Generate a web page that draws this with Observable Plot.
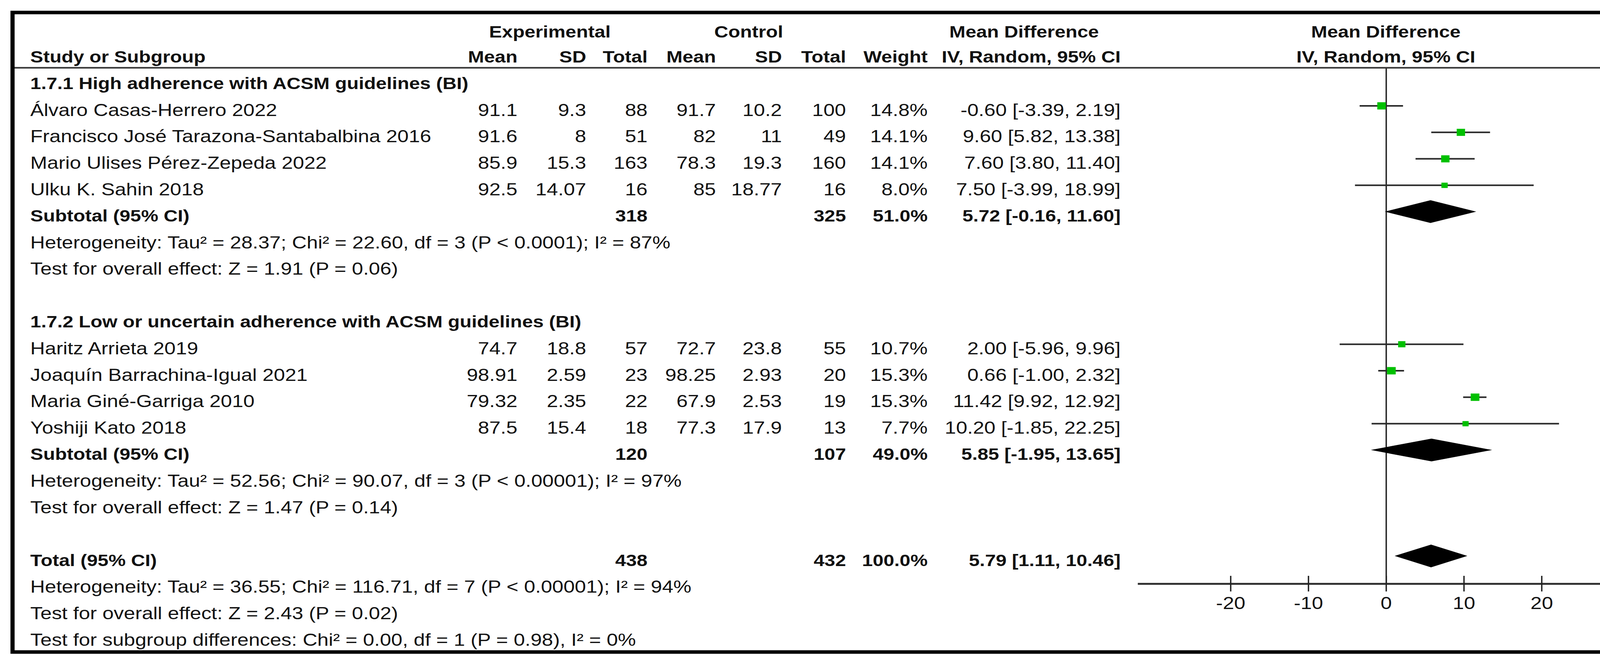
<!DOCTYPE html>
<html><head><meta charset="utf-8">
<script src="https://cdn.jsdelivr.net/npm/d3@7"></script>
<script src="https://cdn.jsdelivr.net/npm/@observablehq/plot@0.6"></script>
<style>html,body{margin:0;padding:0;background:#fff;} #chart{width:4260px;height:1692px;overflow:hidden;}</style>
</head><body><div id="chart"></div><script>
// ---------------- DATA ----------------
const studies = ["Álvaro Casas-Herrero 2022", "Francisco José Tarazona-Santabalbina 2016", "Mario Ulises Pérez-Zepeda 2022", "Ulku K. Sahin 2018",
  "Haritz Arrieta 2019", "Joaquín Barrachina-Igual 2021", "Maria Giné-Garriga 2010", "Yoshiji Kato 2018"];
const group = [1, 1, 1, 1, 2, 2, 2, 2];
const expMean = [91.1, 91.6, 85.9, 92.5, 74.7, 98.91, 79.32, 87.5];
const expSD = [9.3, 8, 15.3, 14.07, 18.8, 2.59, 2.35, 15.4];
const expN = [88, 51, 163, 16, 57, 23, 22, 18];
const ctrlMean = [91.7, 82, 78.3, 85, 72.7, 98.25, 67.9, 77.3];
const ctrlSD = [10.2, 11, 19.3, 18.77, 23.8, 2.93, 2.53, 17.9];
const ctrlN = [100, 49, 160, 16, 55, 20, 19, 13];
const weight = [14.8, 14.1, 14.1, 8.0, 10.7, 15.3, 15.3, 7.7];
const md = [-0.60, 9.60, 7.60, 7.50, 2.00, 0.66, 11.42, 10.20];
const ciLo = [-3.39, 5.82, 3.80, -3.99, -5.96, -1.00, 9.92, -1.85];
const ciHi = [2.19, 13.38, 11.40, 18.99, 9.96, 2.32, 12.92, 22.25];

const subgroupLabels = ["1.7.1 High adherence with ACSM guidelines (BI)", "1.7.2 Low or uncertain adherence with ACSM guidelines (BI)"];
const summaryLabels = ["Subtotal (95% CI)", "Subtotal (95% CI)", "Total (95% CI)"];
const summaryExpN = [318, 120, 438];
const summaryCtrlN = [325, 107, 432];
const summaryWeight = [51.0, 49.0, 100.0];
const summaryMD = [5.72, 5.85, 5.79];
const summaryLo = [-0.16, -1.95, 1.11];
const summaryHi = [11.60, 13.65, 10.46];
const heterogeneity = [
  "Heterogeneity: Tau² = 28.37; Chi² = 22.60, df = 3 (P < 0.0001); I² = 87%",
  "Heterogeneity: Tau² = 52.56; Chi² = 90.07, df = 3 (P < 0.00001); I² = 97%",
  "Heterogeneity: Tau² = 36.55; Chi² = 116.71, df = 7 (P < 0.00001); I² = 94%"];
const overallEffect = [
  "Test for overall effect: Z = 1.91 (P = 0.06)",
  "Test for overall effect: Z = 1.47 (P = 0.14)",
  "Test for overall effect: Z = 2.43 (P = 0.02)"];
const subgroupDiff = "Test for subgroup differences: Chi² = 0.00, df = 1 (P = 0.98), I² = 0%";
const groupHeaders = ["Experimental", "Control", "Mean Difference", "Mean Difference"];
const columnHeaders = ["Study or Subgroup", "Mean", "SD", "Total", "Mean", "SD", "Total", "Weight", "IV, Random, 95% CI", "IV, Random, 95% CI"];
const xTicks = [-20, -10, 0, 10, 20];
const xDomain = [-32, 32];

// ---------------- LAYOUT ----------------
const W = 4260, H = 1692, SX = 1.18, PW = Math.round(W / SX);
const px = v => v / SX;
const FS = 44, FSB = 42;
const FONT = "'Liberation Sans', Arial, Helvetica, sans-serif";
const INK = "#111";
const ROW0 = 282, ROWH = 67.8, AXIS_Y = 1494, UNDER_Y = 173;
const BOX_OFF = 0.17, DIAM_H = 0.43;
const colRight = {expMean: 1324, expSD: 1500, expN: 1657, ctrlMean: 1832, ctrlSD: 2001, ctrlN: 2165, weight: 2374, ci: 2868};
const studyLeft = 77;
const groupHeaderX = [1407, 1916, 2621, 3547];
const headerLine1 = -2.95, headerLine2 = -2.0;

const fmtCI = (m, l, h) => `${m.toFixed(2)} [${l.toFixed(2)}, ${h.toFixed(2)}]`;

// lines: group1 header -1, studies 0..3, subtotal 4, het 5, test 6; group2 header 8, studies 9..12, subtotal 13, 14, 15; total 17, 18, 19; diff 20
const studyRows = studies.map((s, i) => ({
  line: group[i] === 1 ? i : i + 5, study: s,
  expMean: String(expMean[i]), expSD: String(expSD[i]), expN: String(expN[i]),
  ctrlMean: String(ctrlMean[i]), ctrlSD: String(ctrlSD[i]), ctrlN: String(ctrlN[i]),
  w: weight[i], weight: weight[i].toFixed(1) + "%",
  md: md[i], lo: ciLo[i], hi: ciHi[i], ci: fmtCI(md[i], ciLo[i], ciHi[i])
}));
const summaryLinesAt = [4, 13, 17];
const summaryRows = summaryLabels.map((s, k) => ({
  line: summaryLinesAt[k], study: s, expN: String(summaryExpN[k]), ctrlN: String(summaryCtrlN[k]),
  weight: summaryWeight[k].toFixed(1) + "%", md: summaryMD[k], lo: summaryLo[k], hi: summaryHi[k],
  ci: fmtCI(summaryMD[k], summaryLo[k], summaryHi[k])
}));
const groupRows = subgroupLabels.map((s, k) => ({line: k === 0 ? -1 : 8, study: s}));
const noteRows = [];
summaryRows.forEach((r, k) => {
  noteRows.push({line: r.line + 1, text: heterogeneity[k]});
  noteRows.push({line: r.line + 2, text: overallEffect[k]});
});
noteRows.push({line: 20, text: subgroupDiff});

const diamondPts = [];
summaryRows.forEach((r, k) => {
  const c = r.line - BOX_OFF;
  diamondPts.push({id: k, y: c - DIAM_H, x1: r.md, x2: r.md});
  diamondPts.push({id: k, y: c, x1: r.lo, x2: r.hi});
  diamondPts.push({id: k, y: c + DIAM_H, x1: r.md, x2: r.md});
});

const T = (data, opts) => Plot.text(data, {fontSize: FS, frameAnchor: "left", fill: INK, lineAnchor: "middle", ...opts});
const B = (data, opts) => T(data, {fontSize: FSB, fontWeight: "bold", ...opts});

const numCols = ["expMean", "expSD", "expN", "ctrlMean", "ctrlSD", "ctrlN", "weight", "ci"];
const hdr1 = groupHeaders.map((t, k) => ({line: headerLine1, text: t, x: groupHeaderX[k]}));
const hdr2Right = columnHeaders.slice(1, 9).map((t, k) => ({line: headerLine2, text: t, x: colRight[numCols[k]]}));

const marks = [];
// header row 1 (centered)
hdr1.forEach(h => marks.push(B([h], {y: "line", text: "text", dx: px(h.x), textAnchor: "middle"})));
// header row 2
marks.push(B([{line: headerLine2, text: columnHeaders[0]}], {y: "line", text: "text", dx: px(studyLeft), textAnchor: "start"}));
hdr2Right.forEach(h => marks.push(B([h], {y: "line", text: "text", dx: px(h.x), textAnchor: "end"})));
marks.push(B([{line: headerLine2, text: columnHeaders[9]}], {y: "line", text: "text", dx: px(groupHeaderX[3]), textAnchor: "middle"}));
// group headers
marks.push(B(groupRows, {y: "line", text: "study", dx: px(studyLeft), textAnchor: "start"}));
// studies
marks.push(T(studyRows, {y: "line", text: "study", dx: px(studyLeft), textAnchor: "start"}));
numCols.forEach(c => marks.push(T(studyRows, {y: "line", text: c, dx: px(colRight[c]), textAnchor: "end"})));
// summaries
marks.push(B(summaryRows, {y: "line", text: "study", dx: px(studyLeft), textAnchor: "start"}));
["expN", "ctrlN", "weight", "ci"].forEach(c => marks.push(B(summaryRows, {y: "line", text: c, dx: px(colRight[c]), textAnchor: "end"})));
// notes
marks.push(T(noteRows, {y: "line", text: "text", dx: px(studyLeft), textAnchor: "start"}));

// forest plot
marks.push(Plot.ruleX([0], {insetTop: UNDER_Y, stroke: "#222", strokeWidth: 3}));
marks.push(Plot.ruleY(studyRows, {y: d => d.line - BOX_OFF, x1: "lo", x2: "hi", stroke: "#2a2a2a", strokeWidth: 4}));
marks.push(Plot.dot(studyRows, {x: "md", y: d => d.line - BOX_OFF, r: "w", symbol: "square", fill: "#00c000", stroke: "none"}));
marks.push(Plot.areaX(diamondPts, {y: "y", x1: "x1", x2: "x2", z: "id", fill: "black", curve: "linear"}));
// axis
marks.push(Plot.frame({anchor: "bottom", insetLeft: px(2915), insetRight: px(W - 4183), stroke: "#333", strokeWidth: 5}));
marks.push(Plot.ruleX(xTicks, {x: d => d, insetTop: AXIS_Y - 20, insetBottom: -20, stroke: "#222", strokeWidth: 3}));
marks.push(Plot.axisX({ticks: xTicks, tickSize: 0, tickPadding: 33, tickFormat: d => String(d), fontSize: FS, label: null, anchor: "bottom", fill: INK}));
// header underline and outer border
marks.push(Plot.frame({anchor: "top", insetTop: UNDER_Y, insetLeft: px(36), insetRight: px(W - 4226), stroke: "#333", strokeWidth: 4}));
marks.push(Plot.frame({insetTop: 31.5, insetBottom: -(1668.5 - AXIS_Y), insetLeft: px(31.5), insetRight: px(W - 4230.5), stroke: "black", strokeWidth: 9}));

const svg = Plot.plot({
  width: PW, height: H,
  marginTop: 0, marginLeft: 0, marginRight: 0, marginBottom: H - AXIS_Y,
  style: {fontFamily: FONT, fontSize: FS + "px", background: "white", color: INK},
  x: {domain: xDomain, range: [px(2911), px(4185)]},
  y: {domain: [0, 20], range: [ROW0, ROW0 + 20 * ROWH], axis: null},
  r: {type: "sqrt", domain: [0, 16], range: [0, 10.9]},
  marks
});
svg.setAttribute("width", W);
svg.setAttribute("height", H);
svg.setAttribute("preserveAspectRatio", "none");
svg.style.width = W + "px";
svg.style.height = H + "px";
svg.style.maxWidth = "none";
document.getElementById("chart").appendChild(svg);
</script></body></html>
